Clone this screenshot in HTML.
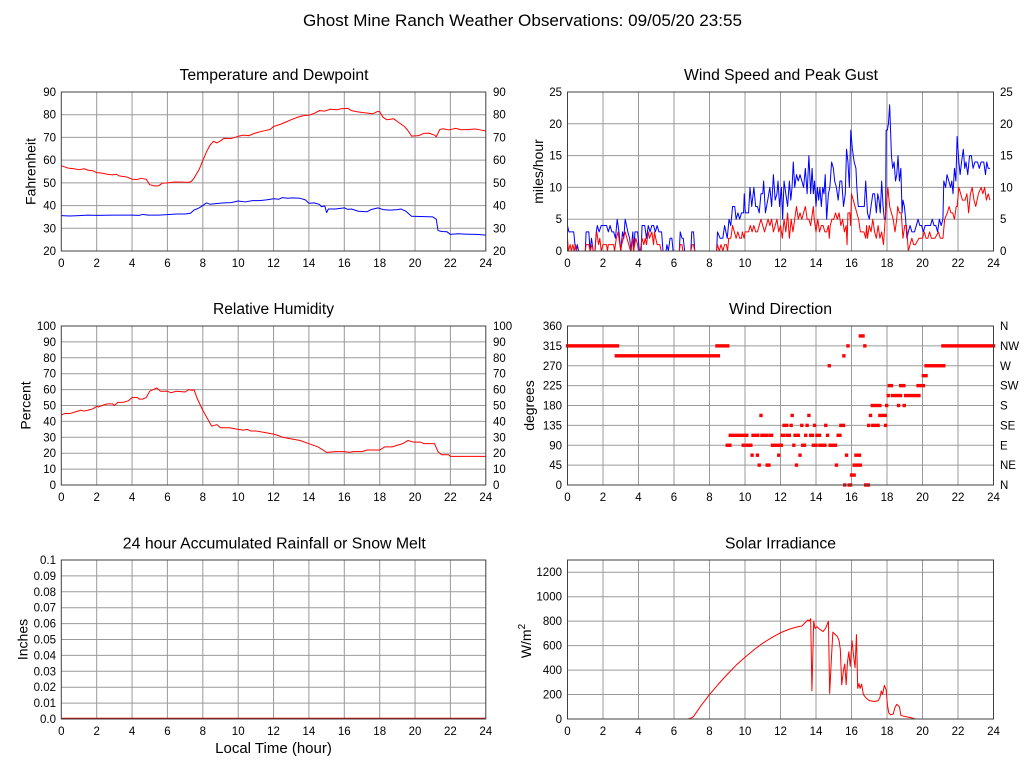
<!DOCTYPE html>
<html><head><meta charset="utf-8"><style>
body{margin:0;background:#fff}
svg{display:block}
text{font-family:"Liberation Sans",Arial,sans-serif;fill:#000}
.t{font-size:11.5px}
.ttl{font-size:15.5px}
.ax{font-size:14px}
.grid{stroke:#9a9a9a;stroke-width:1;fill:none}
.bd{stroke:#404040;stroke-width:1;fill:none}
.ln{fill:none;stroke-width:1;vector-effect:non-scaling-stroke;stroke-linejoin:round}
</style></head><body>
<svg width="1027" height="772" viewBox="0 0 1027 772" xmlns="http://www.w3.org/2000/svg">
<rect width="1027" height="772" fill="#fff"/>
<text x="522.5" y="26" text-anchor="middle" style="font-size:17px" textLength="439" lengthAdjust="spacingAndGlyphs">Ghost Mine Ranch Weather Observations: 09/05/20 23:55</text>

<!-- Panel titles -->
<text class="ttl" x="274" y="80" text-anchor="middle" textLength="189" lengthAdjust="spacingAndGlyphs">Temperature and Dewpoint</text>
<text class="ttl" x="781" y="80" text-anchor="middle" textLength="194" lengthAdjust="spacingAndGlyphs">Wind Speed and Peak Gust</text>
<text class="ttl" x="273.5" y="314" text-anchor="middle" textLength="121" lengthAdjust="spacingAndGlyphs">Relative Humidity</text>
<text class="ttl" x="780.5" y="314" text-anchor="middle" textLength="103" lengthAdjust="spacingAndGlyphs">Wind Direction</text>
<text class="ttl" x="274.3" y="548.5" text-anchor="middle" textLength="303" lengthAdjust="spacingAndGlyphs">24 hour Accumulated Rainfall or Snow Melt</text>
<text class="ttl" x="780.5" y="548.5" text-anchor="middle" textLength="111" lengthAdjust="spacingAndGlyphs">Solar Irradiance</text>

<!-- Axis labels -->
<text class="ax" x="35.5" y="171.5" text-anchor="middle" transform="rotate(-90 35.5 171.5)">Fahrenheit</text>
<text class="ax" x="543" y="171.5" text-anchor="middle" transform="rotate(-90 543 171.5)">miles/hour</text>
<text class="ax" x="30.5" y="405.5" text-anchor="middle" transform="rotate(-90 30.5 405.5)">Percent</text>
<text class="ax" x="534" y="405.5" text-anchor="middle" transform="rotate(-90 534 405.5)">degrees</text>
<text class="ax" x="27.5" y="639.5" text-anchor="middle" transform="rotate(-90 27.5 639.5)">Inches</text>
<text class="ax" x="531" y="641" text-anchor="middle" transform="rotate(-90 531 641)">W/m<tspan dy="-6" style="font-size:10px">2</tspan></text>
<text x="273.5" y="753" text-anchor="middle" style="font-size:15px">Local Time (hour)</text>

<!-- Grids left panels -->
<path class="grid" d="
M96.7,92V251 M132.05,92V251 M167.4,92V251 M202.8,92V251 M238.2,92V251 M273.55,92V251 M308.9,92V251 M344.3,92V251 M379.7,92V251 M415.05,92V251 M450.4,92V251
M61.3,114.71H485.8 M61.3,137.43H485.8 M61.3,160.14H485.8 M61.3,182.86H485.8 M61.3,205.57H485.8 M61.3,228.29H485.8
M96.7,326V485 M132.05,326V485 M167.4,326V485 M202.8,326V485 M238.2,326V485 M273.55,326V485 M308.9,326V485 M344.3,326V485 M379.7,326V485 M415.05,326V485 M450.4,326V485
M61.3,341.9H485.8 M61.3,357.8H485.8 M61.3,373.7H485.8 M61.3,389.6H485.8 M61.3,405.5H485.8 M61.3,421.4H485.8 M61.3,437.3H485.8 M61.3,453.2H485.8 M61.3,469.1H485.8
M96.7,560V719 M132.05,560V719 M167.4,560V719 M202.8,560V719 M238.2,560V719 M273.55,560V719 M308.9,560V719 M344.3,560V719 M379.7,560V719 M415.05,560V719 M450.4,560V719
M61.3,575.9H485.8 M61.3,591.8H485.8 M61.3,607.7H485.8 M61.3,623.6H485.8 M61.3,639.5H485.8 M61.3,655.4H485.8 M61.3,671.3H485.8 M61.3,687.2H485.8 M61.3,703.1H485.8
"/>
<!-- Grids right panels -->
<path class="grid" d="
M603.0,92V251 M638.5,92V251 M674.0,92V251 M709.5,92V251 M745.0,92V251 M780.5,92V251 M816.0,92V251 M851.5,92V251 M887.0,92V251 M922.5,92V251 M958.0,92V251
M567.5,123.8H993.5 M567.5,155.6H993.5 M567.5,187.4H993.5 M567.5,219.2H993.5
M603.0,326V485 M638.5,326V485 M674.0,326V485 M709.5,326V485 M745.0,326V485 M780.5,326V485 M816.0,326V485 M851.5,326V485 M887.0,326V485 M922.5,326V485 M958.0,326V485
M567.5,345.875H993.5 M567.5,365.75H993.5 M567.5,385.625H993.5 M567.5,405.5H993.5 M567.5,425.375H993.5 M567.5,445.25H993.5 M567.5,465.125H993.5
M603.0,560V719 M638.5,560V719 M674.0,560V719 M709.5,560V719 M745.0,560V719 M780.5,560V719 M816.0,560V719 M851.5,560V719 M887.0,560V719 M922.5,560V719 M958.0,560V719
M567.5,572.23H993.5 M567.5,596.69H993.5 M567.5,621.15H993.5 M567.5,645.62H993.5 M567.5,670.08H993.5 M567.5,694.54H993.5
"/>

<!-- Temperature & dewpoint -->
<g transform="translate(61.3,251) scale(17.6875,-2.271429) translate(0,-20)">
<polyline class="ln" stroke="#ff0000" points="0,57.5 0.2,57 0.4,56.5 0.7,56.2 1,55.8 1.3,56.2 1.5,55.6 1.8,55.3 2,54.5 2.3,54.3 2.6,53.8 2.9,53.5 3.1,53.8 3.3,53 3.7,52.6 4,51.6 4.3,51.5 4.5,52 4.8,51.6 5,49.2 5.3,48.6 5.5,48.7 5.7,49.8 6,50 6.4,50.4 6.8,50.3 7.2,50.2 7.35,50.6 7.5,52 7.8,56 8,59.8 8.2,63.5 8.4,66.5 8.6,68.3 8.8,67.6 9,68.5 9.2,69.6 9.6,69.5 10,70.5 10.3,71 10.6,70.8 11,72 11.4,72.8 11.8,73.5 12,74.8 12.4,75.8 12.7,76.8 13,77.8 13.4,79 13.7,79.6 14,79.8 14.3,80.6 14.6,81.8 14.9,81.6 15.2,82.4 15.6,82.2 15.8,82.6 16.2,82.8 16.4,81.8 16.8,81.2 17.2,80.8 17.6,80.4 17.9,81.5 18,81.3 18.2,78.8 18.4,77.8 18.8,78.2 19,77 19.4,74.8 19.6,73 19.8,70.6 20.2,70.8 20.5,71.8 20.8,71.9 21.1,71 21.2,70.3 21.4,73.5 21.6,73.8 21.9,73.3 22.3,74 22.6,73.4 23,73.5 23.4,73.7 23.7,73.3 24,72.9"/>
<polyline class="ln" stroke="#0000ff" points="0,35.6 0.5,35.4 1,35.6 1.5,35.8 2,35.7 3,35.8 4,35.8 4.4,35.7 4.6,36.1 4.9,35.8 5.5,35.8 6,36 6.5,36.3 7,36.3 7.3,36.6 7.5,38 7.8,39 8,40 8.2,41.2 8.4,40.6 8.8,40.9 9.2,41.2 9.6,41.3 10,42 10.4,41.6 10.8,42.2 11.2,42.2 11.6,42.5 12,43 12.3,42.8 12.5,43.5 12.8,43.2 13.1,43.4 13.5,43.2 13.8,42.5 14,41 14.3,41.2 14.6,40.5 14.7,39.5 14.9,39.8 15,36.9 15.1,38.5 15.5,38.5 16,39 16.2,38.3 16.4,38.5 16.8,37.5 17.3,37.3 17.5,38.2 17.9,39 18.2,38.2 18.6,38 19,38.2 19.2,38.5 19.5,37.4 19.8,35.3 20.3,35.2 21,35 21.2,34 21.3,29 21.5,28.6 21.8,28.5 22,27.3 22.4,27.6 23,27.4 23.5,27.3 24,27"/>
</g>

<!-- Wind speed & gust -->
<g transform="translate(567.5,251) scale(17.75,-6.36)">
<polyline class="ln" stroke="#0000ff" points="0,4 0.08,3 0.35,3 0.42,1 0.5,0 0.55,1 0.62,0 1.0,0 1.05,3 1.2,3 1.27,0 1.35,2 1.45,0 1.55,0 1.62,3 1.68,4 1.78,3 1.9,4 2.2,4 2.3,3 2.4,4 2.5,3 2.6,3 2.7,2 2.8,5 2.9,3 3.0,0 3.1,3 3.17,2 3.25,5 3.4,3 3.5,2 3.58,0 3.68,3 3.73,0 3.8,3 3.95,3 4.05,0 4.15,0 4.2,4 4.35,4 4.45,2 4.55,4 4.65,3 4.75,4 4.85,4 4.95,3 5.05,4 5.15,3 5.3,3 5.38,0 5.55,0 5.6,1 5.68,0 5.78,2 5.88,2 5.95,0 6.3,0 6.35,3 6.45,2 6.52,2 6.6,0 6.95,0 7.0,3 7.1,3 7.17,0 8.4,0 8.45,3 8.6,2 8.75,2 8.85,4 9.0,2 9.1,5 9.2,4 9.3,7 9.42,7 9.5,5 9.6,6 9.7,5 9.8,6 9.92,6 9.96,9 10.02,6 10.2,6 10.28,10 10.38,7 10.5,10 10.6,7 10.7,7 10.8,6 10.9,9 11.0,9 11.05,11 11.15,6 11.28,8 11.4,10 11.5,7 11.6,12 11.7,8 11.8,9 11.86,11 11.95,7 12.05,10 12.12,5 12.2,11 12.3,9 12.4,7 12.5,11 12.58,8 12.65,10 12.72,14 12.8,10 12.9,12 13.0,11 13.1,12 13.2,11 13.3,10 13.4,13 13.5,9 13.6,15 13.7,9 13.78,13 13.85,9 13.92,11 14.0,7 14.08,10 14.15,8 14.22,10 14.3,7 14.38,10 14.45,9 14.52,12 14.6,5 14.7,9 14.78,10 14.88,14 14.98,13 15.05,11 15.15,10 15.25,8 15.35,11 15.45,11 15.55,7 15.65,9 15.72,16 15.8,14 15.88,10 15.96,19 16.05,16 16.15,14 16.25,13 16.3,10 16.38,7 16.5,7 16.6,7 16.72,7 16.8,11 16.9,6 17.0,5 17.1,7 17.2,9 17.3,9 17.4,6 17.48,9 17.55,8 17.62,6 17.7,11 17.78,7 17.85,5 17.92,5 17.95,19 18.02,19 18.08,20 18.15,23 18.25,15 18.32,13 18.4,14 18.48,11 18.55,12 18.62,15 18.7,11 18.78,13 18.85,6 18.9,8 18.98,7 19.05,5 19.12,2 19.2,3 19.3,4 19.4,3 19.55,3 19.65,4 19.75,5 19.85,4 19.95,4 20.05,3 20.15,4 20.3,4 20.45,4 20.55,5 20.65,4 20.75,4 20.85,3 20.95,5 21.05,4 21.15,5 21.2,11 21.3,10 21.38,12 21.48,11 21.58,10 21.65,11 21.72,9 21.8,13 21.88,11 21.95,18 22.05,14 22.12,12 22.2,14 22.3,16 22.38,13 22.45,14 22.55,12 22.65,15 22.75,15 22.85,13 22.95,14 23.1,14 23.2,13 23.3,14 23.45,14 23.55,12 23.62,14 23.7,13 23.8,13"/>
<polyline class="ln" stroke="#ff0000" points="0,2 0.05,0 0.15,1 0.22,0 0.3,1 0.38,0 0.45,1 0.52,0 1.0,0 1.05,1 1.2,1 1.28,0 1.38,1 1.45,0 1.55,0 1.6,2 1.65,3 1.75,1 1.82,2 1.9,0 2.0,1 2.2,1 2.25,0 2.3,1 2.6,1 2.65,0 2.75,2 2.85,3 2.95,1 3.0,0 3.05,1 3.25,3 3.35,2 3.45,1 3.55,0 3.65,2 3.72,0 3.85,2 3.95,1 4.0,0 4.1,0 4.2,2 4.3,1 4.38,2 4.45,1 4.55,3 4.62,2 4.75,3 4.85,1 4.9,3 4.97,2 5.05,1 5.2,1 5.28,0 6.3,0 6.35,1 6.45,1 6.5,0 6.95,0 7.02,1 7.1,1 7.17,0 8.4,0 8.45,1 8.55,0 8.65,1 8.75,0 8.85,1 8.95,1 9.02,0 9.08,2 9.2,2 9.3,4 9.4,3 9.5,2 9.6,3 9.7,2 9.8,2 9.85,3 9.95,2 10.0,3 10.2,3 10.3,4 10.4,3 10.5,4 10.6,3 10.7,3 10.8,4 10.9,5 11.0,4 11.1,3 11.2,4 11.3,5 11.4,4 11.5,5 11.6,3 11.7,4 11.8,5 11.9,3 12.0,4 12.1,2 12.2,5 12.3,3 12.4,6 12.5,2 12.6,5 12.7,3 12.8,5 12.9,7 13.0,5 13.1,6 13.2,5 13.3,6 13.4,7 13.5,5 13.6,5 13.7,4 13.8,6 13.85,7 13.9,5 14.0,3 14.1,5 14.2,3 14.3,4 14.4,4 14.5,3 14.6,3 14.7,4 14.75,2 14.8,4 14.9,5 15.0,5 15.1,6 15.2,5 15.3,6 15.4,4 15.5,5 15.6,3 15.7,4 15.75,1 15.8,6 15.9,6 15.95,4 16.0,9 16.1,8 16.2,7 16.3,6 16.4,5 16.5,3 16.6,3 16.7,3 16.8,2 16.85,4 16.9,2 17.0,4 17.1,3 17.2,5 17.3,3 17.4,2 17.5,4 17.6,2 17.7,3 17.8,1 17.9,5 18.05,10 18.15,7 18.25,6 18.35,5 18.45,3 18.55,5 18.6,7 18.7,6 18.8,6 18.9,2 19.0,4 19.1,4 19.2,0 19.3,1 19.4,2 19.5,1 19.6,1 19.8,2 20.0,2 20.1,3 20.2,2 20.3,2 20.4,3 20.5,2 20.7,2 20.9,3 21.0,2 21.15,2 21.25,5 21.4,6 21.5,7 21.6,6 21.7,6 21.8,5 21.9,7 21.95,7 22.05,10 22.15,9 22.25,8 22.4,8 22.5,9 22.6,6 22.7,9 22.8,10 22.9,8 23.0,7 23.15,9 23.3,10 23.4,9 23.5,10 23.6,8 23.7,9 23.8,8"/>
</g>

<!-- Relative humidity -->
<g transform="translate(61.3,485) scale(17.6875,-1.59)">
<polyline class="ln" stroke="#ff0000" points="0,44 0.2,45 0.5,45 0.8,46 1.1,47 1.3,46.5 1.5,47 1.8,48 2.0,49.5 2.1,49 2.3,50 2.6,51 2.9,51 3.0,50 3.2,52 3.5,52 3.8,53 4.0,55 4.3,55 4.4,54 4.6,54 4.8,55 5.0,59 5.2,60 5.4,61 5.6,59 5.8,59 6.0,59 6.2,58 6.5,59 7.0,58.5 7.2,60 7.4,59.5 7.5,60 7.7,54 8.0,47 8.3,41 8.5,37 8.8,38 9.0,36 9.5,36 10.0,35 10.3,34.5 10.5,35 10.7,34 11.0,34 11.5,33 12.0,32 12.3,31 12.5,30 13.0,29 13.5,28 14.0,26 14.5,24 14.8,22 15.0,20.5 15.5,21 16.0,21 16.3,20.5 16.5,21 17.0,21 17.3,22 18.0,22 18.3,24 18.7,24 19.0,25 19.3,26 19.6,28 19.9,27 20.3,27 20.5,26 21.1,26 21.3,21 21.5,19 21.9,19 22.0,18 24,18"/>
</g>

<!-- Wind direction markers -->
<g transform="translate(567.5,485) scale(17.75,-0.441667)" fill="#ff0000">
<rect x="-0.095" y="311.15" width="3.01" height="7.7"/>
<rect x="2.655" y="288.65" width="5.94" height="7.7"/>
<rect x="8.325" y="311.15" width="0.8" height="7.7"/>
<rect x="8.905" y="86.15" width="0.34" height="7.7"/>
<rect x="9.075" y="108.65" width="1.12" height="7.7"/>
<rect x="9.805" y="86.15" width="0.19" height="7.7"/>
<rect x="10.005" y="86.15" width="0.42" height="7.7"/>
<rect x="10.305" y="63.65" width="0.19" height="7.7"/>
<rect x="10.355" y="108.65" width="0.46" height="7.7"/>
<rect x="10.605" y="63.65" width="0.19" height="7.7"/>
<rect x="10.705" y="41.15" width="0.19" height="7.7"/>
<rect x="10.805" y="153.65" width="0.19" height="7.7"/>
<rect x="10.855" y="108.65" width="0.44" height="7.7"/>
<rect x="11.155" y="41.15" width="0.29" height="7.7"/>
<rect x="11.305" y="108.65" width="0.29" height="7.7"/>
<rect x="11.455" y="86.15" width="0.69" height="7.7"/>
<rect x="11.805" y="63.65" width="0.19" height="7.7"/>
<rect x="12.005" y="108.65" width="0.29" height="7.7"/>
<rect x="12.105" y="131.15" width="0.34" height="7.7"/>
<rect x="12.305" y="108.65" width="0.29" height="7.7"/>
<rect x="12.505" y="131.15" width="0.19" height="7.7"/>
<rect x="12.565" y="153.65" width="0.19" height="7.7"/>
<rect x="12.655" y="86.15" width="0.19" height="7.7"/>
<rect x="12.725" y="108.65" width="0.37" height="7.7"/>
<rect x="12.805" y="41.15" width="0.19" height="7.7"/>
<rect x="13.005" y="63.65" width="0.19" height="7.7"/>
<rect x="13.105" y="131.15" width="0.19" height="7.7"/>
<rect x="13.155" y="86.15" width="0.29" height="7.7"/>
<rect x="13.325" y="108.65" width="0.19" height="7.7"/>
<rect x="13.405" y="131.15" width="0.19" height="7.7"/>
<rect x="13.505" y="153.65" width="0.19" height="7.7"/>
<rect x="13.605" y="108.65" width="0.29" height="7.7"/>
<rect x="13.755" y="86.15" width="0.34" height="7.7"/>
<rect x="13.825" y="131.15" width="0.19" height="7.7"/>
<rect x="13.955" y="108.65" width="0.34" height="7.7"/>
<rect x="14.125" y="86.15" width="0.47" height="7.7"/>
<rect x="14.455" y="131.15" width="0.19" height="7.7"/>
<rect x="14.555" y="108.65" width="0.19" height="7.7"/>
<rect x="14.655" y="266.15" width="0.19" height="7.7"/>
<rect x="14.705" y="86.15" width="0.49" height="7.7"/>
<rect x="15.055" y="41.15" width="0.19" height="7.7"/>
<rect x="15.155" y="108.65" width="0.29" height="7.7"/>
<rect x="15.305" y="131.15" width="0.34" height="7.7"/>
<rect x="15.475" y="288.65" width="0.19" height="7.7"/>
<rect x="15.525" y="-3.85" width="0.19" height="7.7"/>
<rect x="15.625" y="63.65" width="0.19" height="7.7"/>
<rect x="15.705" y="311.15" width="0.19" height="7.7"/>
<rect x="15.775" y="-3.85" width="0.27" height="7.7"/>
<rect x="15.905" y="18.65" width="0.34" height="7.7"/>
<rect x="16.055" y="41.15" width="0.54" height="7.7"/>
<rect x="16.155" y="63.65" width="0.39" height="7.7"/>
<rect x="16.405" y="333.65" width="0.34" height="7.7"/>
<rect x="16.655" y="311.15" width="0.19" height="7.7"/>
<rect x="16.705" y="-3.85" width="0.34" height="7.7"/>
<rect x="16.875" y="131.15" width="0.19" height="7.7"/>
<rect x="16.975" y="153.65" width="0.19" height="7.7"/>
<rect x="17.075" y="176.15" width="0.19" height="7.7"/>
<rect x="17.105" y="131.15" width="0.49" height="7.7"/>
<rect x="17.255" y="176.15" width="0.44" height="7.7"/>
<rect x="17.505" y="153.65" width="0.49" height="7.7"/>
<rect x="17.825" y="131.15" width="0.19" height="7.7"/>
<rect x="17.885" y="176.15" width="0.19" height="7.7"/>
<rect x="17.975" y="198.65" width="0.19" height="7.7"/>
<rect x="18.035" y="221.15" width="0.31" height="7.7"/>
<rect x="18.205" y="198.65" width="0.66" height="7.7"/>
<rect x="18.555" y="176.15" width="0.19" height="7.7"/>
<rect x="18.675" y="221.15" width="0.37" height="7.7"/>
<rect x="18.875" y="176.15" width="0.19" height="7.7"/>
<rect x="18.955" y="198.65" width="0.94" height="7.7"/>
<rect x="19.655" y="221.15" width="0.49" height="7.7"/>
<rect x="19.955" y="243.65" width="0.34" height="7.7"/>
<rect x="20.105" y="266.15" width="1.19" height="7.7"/>
<rect x="21.055" y="311.15" width="3.04" height="7.7"/>
</g>

<!-- Solar -->
<g transform="translate(567.5,719) scale(17.75,-0.122308)">
<polyline class="ln" stroke="#ff0000" points="0,0 6.8,0 7.0,10 7.1,20 7.5,105 8,200 8.5,285 9,365 9.5,440 10,505 10.5,565 11,620 11.5,665 12,705 12.5,735 13,755 13.2,760 13.4,790 13.55,810 13.62,800 13.7,820 13.77,230 13.87,800 13.95,740 14.05,755 14.2,735 14.4,715 14.55,745 14.7,800 14.77,210 14.87,500 14.95,710 15.05,695 15.2,675 15.3,640 15.37,570 15.45,280 15.55,400 15.62,450 15.7,280 15.77,460 15.85,550 15.93,430 16.03,640 16.13,500 16.2,420 16.28,690 16.35,250 16.42,290 16.48,250 16.57,285 16.67,200 16.8,175 17.0,150 17.3,143 17.5,150 17.6,175 17.68,230 17.75,200 17.85,275 17.95,240 18.03,110 18.1,50 18.2,35 18.35,40 18.45,95 18.55,120 18.7,100 18.78,30 19.0,20 19.3,12 19.6,0 24,0"/>
</g>

<!-- Rainfall zero line -->
<line x1="61.3" y1="718.5" x2="485.8" y2="718.5" stroke="#d00000" stroke-width="1.5"/>

<!-- Borders -->
<rect class="bd" x="61.3" y="92" width="424.5" height="159"/>
<rect class="bd" x="567.5" y="92" width="426" height="159"/>
<rect class="bd" x="61.3" y="326" width="424.5" height="159"/>
<rect class="bd" x="567.5" y="326" width="426" height="159"/>
<rect class="bd" x="61.3" y="560" width="424.5" height="159"/>
<rect class="bd" x="567.5" y="560" width="426" height="159"/>

<!-- Tick labels: Temperature -->
<g class="t" text-anchor="end">
<text x="56" y="96">90</text><text x="56" y="118.7">80</text><text x="56" y="141.4">70</text><text x="56" y="164.1">60</text><text x="56" y="186.9">50</text><text x="56" y="209.6">40</text><text x="56" y="232.3">30</text><text x="56" y="255">20</text>
<text x="562" y="96">25</text><text x="562" y="127.8">20</text><text x="562" y="159.6">15</text><text x="562" y="191.4">10</text><text x="562" y="223.2">5</text><text x="562" y="255">0</text>
<text x="56" y="330">100</text><text x="56" y="345.9">90</text><text x="56" y="361.8">80</text><text x="56" y="377.7">70</text><text x="56" y="393.6">60</text><text x="56" y="409.5">50</text><text x="56" y="425.4">40</text><text x="56" y="441.3">30</text><text x="56" y="457.2">20</text><text x="56" y="473.1">10</text><text x="56" y="489">0</text>
<text x="562" y="330">360</text><text x="562" y="349.9">315</text><text x="562" y="369.75">270</text><text x="562" y="389.6">225</text><text x="562" y="409.5">180</text><text x="562" y="429.4">135</text><text x="562" y="449.25">90</text><text x="562" y="469.1">45</text><text x="562" y="489">0</text>
<text x="56" y="564">0.1</text><text x="56" y="579.9">0.09</text><text x="56" y="595.8">0.08</text><text x="56" y="611.7">0.07</text><text x="56" y="627.6">0.06</text><text x="56" y="643.5">0.05</text><text x="56" y="659.4">0.04</text><text x="56" y="675.3">0.03</text><text x="56" y="691.2">0.02</text><text x="56" y="707.1">0.01</text><text x="56" y="723">0.0</text>
<text x="562" y="576.2">1200</text><text x="562" y="600.7">1000</text><text x="562" y="625.2">800</text><text x="562" y="649.6">600</text><text x="562" y="674.1">400</text><text x="562" y="698.5">200</text><text x="562" y="723">0</text>
</g>
<g class="t" text-anchor="start">
<text x="493" y="96">90</text><text x="493" y="118.7">80</text><text x="493" y="141.4">70</text><text x="493" y="164.1">60</text><text x="493" y="186.9">50</text><text x="493" y="209.6">40</text><text x="493" y="232.3">30</text><text x="493" y="255">20</text>
<text x="1000" y="96">25</text><text x="1000" y="127.8">20</text><text x="1000" y="159.6">15</text><text x="1000" y="191.4">10</text><text x="1000" y="223.2">5</text><text x="1000" y="255">0</text>
<text x="493" y="330">100</text><text x="493" y="345.9">90</text><text x="493" y="361.8">80</text><text x="493" y="377.7">70</text><text x="493" y="393.6">60</text><text x="493" y="409.5">50</text><text x="493" y="425.4">40</text><text x="493" y="441.3">30</text><text x="493" y="457.2">20</text><text x="493" y="473.1">10</text><text x="493" y="489">0</text>
<text x="1000" y="330">N</text><text x="1000" y="349.9">NW</text><text x="1000" y="369.75">W</text><text x="1000" y="389.6">SW</text><text x="1000" y="409.5">S</text><text x="1000" y="429.4">SE</text><text x="1000" y="449.25">E</text><text x="1000" y="469.1">NE</text><text x="1000" y="489">N</text>
</g>

<!-- X tick labels -->
<g class="t" text-anchor="middle">
<text x="61.3" y="267">0</text><text x="96.7" y="267">2</text><text x="132.05" y="267">4</text><text x="167.4" y="267">6</text><text x="202.8" y="267">8</text><text x="238.2" y="267">10</text><text x="273.55" y="267">12</text><text x="308.9" y="267">14</text><text x="344.3" y="267">16</text><text x="379.7" y="267">18</text><text x="415.05" y="267">20</text><text x="450.4" y="267">22</text><text x="485.8" y="267">24</text>
<text x="567.5" y="267">0</text><text x="603" y="267">2</text><text x="638.5" y="267">4</text><text x="674" y="267">6</text><text x="709.5" y="267">8</text><text x="745" y="267">10</text><text x="780.5" y="267">12</text><text x="816" y="267">14</text><text x="851.5" y="267">16</text><text x="887" y="267">18</text><text x="922.5" y="267">20</text><text x="958" y="267">22</text><text x="993.5" y="267">24</text>
<text x="61.3" y="501">0</text><text x="96.7" y="501">2</text><text x="132.05" y="501">4</text><text x="167.4" y="501">6</text><text x="202.8" y="501">8</text><text x="238.2" y="501">10</text><text x="273.55" y="501">12</text><text x="308.9" y="501">14</text><text x="344.3" y="501">16</text><text x="379.7" y="501">18</text><text x="415.05" y="501">20</text><text x="450.4" y="501">22</text><text x="485.8" y="501">24</text>
<text x="567.5" y="501">0</text><text x="603" y="501">2</text><text x="638.5" y="501">4</text><text x="674" y="501">6</text><text x="709.5" y="501">8</text><text x="745" y="501">10</text><text x="780.5" y="501">12</text><text x="816" y="501">14</text><text x="851.5" y="501">16</text><text x="887" y="501">18</text><text x="922.5" y="501">20</text><text x="958" y="501">22</text><text x="993.5" y="501">24</text>
<text x="61.3" y="735">0</text><text x="96.7" y="735">2</text><text x="132.05" y="735">4</text><text x="167.4" y="735">6</text><text x="202.8" y="735">8</text><text x="238.2" y="735">10</text><text x="273.55" y="735">12</text><text x="308.9" y="735">14</text><text x="344.3" y="735">16</text><text x="379.7" y="735">18</text><text x="415.05" y="735">20</text><text x="450.4" y="735">22</text><text x="485.8" y="735">24</text>
<text x="567.5" y="735">0</text><text x="603" y="735">2</text><text x="638.5" y="735">4</text><text x="674" y="735">6</text><text x="709.5" y="735">8</text><text x="745" y="735">10</text><text x="780.5" y="735">12</text><text x="816" y="735">14</text><text x="851.5" y="735">16</text><text x="887" y="735">18</text><text x="922.5" y="735">20</text><text x="958" y="735">22</text><text x="993.5" y="735">24</text>
</g>
</svg>
</body></html>
